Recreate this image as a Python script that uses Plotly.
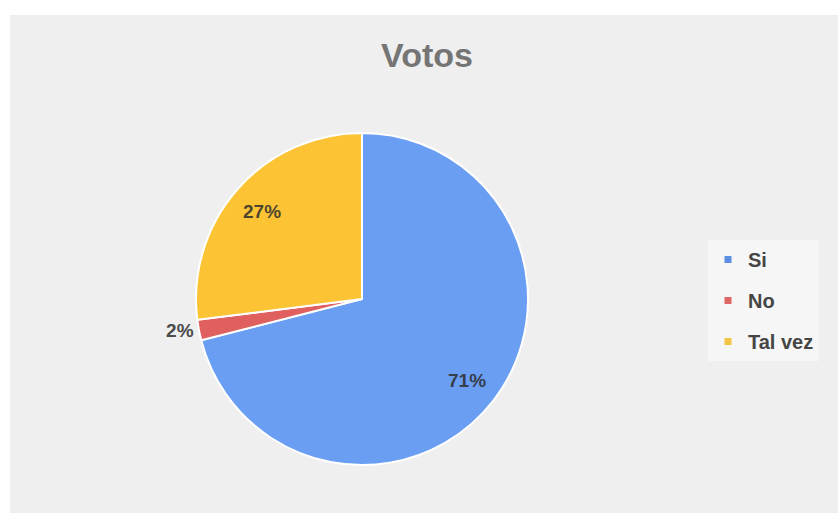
import math
import plotly.graph_objects as go

# Vote shares
labels = ["Si", "No", "Tal vez"]
values = [71, 2, 27]
colors = ["#6a9ef3", "#e06060", "#fcc434"]
legend_colors = ["#5b8fe6", "#e06666", "#f4c542"]
text_positions = ["none", "outside", "none"]
inside_labels = [True, False, True]

W, H = 838, 513
cx, cy, r = 362, 299, 166  # pie centre/radius in pixels

label_font = dict(family="Liberation Sans, Arial", size=19, color="rgba(45,45,45,0.85)", weight="bold")

fig = go.Figure()

fig.add_trace(go.Pie(
    labels=labels,
    values=values,
    sort=False,
    direction="clockwise",
    rotation=0,
    marker=dict(colors=colors, line=dict(color="white", width=2)),
    textinfo="percent",
    texttemplate="%{percent:.0%}",
    textposition=text_positions,
    outsidetextfont=dict(family="Liberation Sans, Arial", size=19, color="#4a4a4a", weight="bold"),
    showlegend=False,
    hoverinfo="label+percent",
    domain=dict(x=[(cx - r) / W, (cx + r) / W], y=[(H - cy - r) / H, (H - cy + r) / H]),
))

# Percent labels placed along each slice's mid-angle, toward the rim
total = sum(values)
annotations = []
cum = 0.0
for v, show in zip(values, inside_labels):
    frac_mid = (cum + v / 2) / total
    cum += v
    if not show:
        continue
    ang = 2 * math.pi * frac_mid
    px = cx + 0.8 * r * math.sin(ang)
    py = cy - 0.8 * r * math.cos(ang)
    annotations.append(dict(
        text=f"{round(100 * v / total)}%", x=px / W, y=1 - py / H,
        xref="paper", yref="paper", showarrow=False,
        xanchor="center", yanchor="middle", font=label_font,
    ))

# Legend entries with small square markers
for name, col in zip(labels, legend_colors):
    fig.add_trace(go.Scatter(
        x=[None], y=[None], mode="markers", name=name,
        legendgroup=name,
        marker=dict(symbol="square", size=7, color=col),
    ))

fig.update_layout(
    width=W, height=H,
    margin=dict(l=0, r=0, t=0, b=0),
    paper_bgcolor="white",
    plot_bgcolor="rgba(0,0,0,0)",
    xaxis=dict(visible=False, domain=[0.9, 0.91]),
    yaxis=dict(visible=False, domain=[0.9, 0.91]),
    title=dict(
        text="Votos", x=427 / W, xanchor="center", y=1 - 55 / H, yanchor="middle",
        font=dict(family="Liberation Sans, Arial", size=34, color="#757575", weight="bold"),
    ),
    legend=dict(
        x=708 / W, xanchor="left", y=1 - 240 / H, yanchor="top",
        bgcolor="#f6f6f6",
        font=dict(family="Liberation Sans, Arial", size=20, color="#454545", weight="bold"),
        tracegroupgap=12,
        itemwidth=30,
    ),
    annotations=annotations,
    shapes=[dict(
        type="rect", xref="paper", yref="paper", layer="below",
        x0=10 / W, x1=1, y0=0, y1=1 - 15 / H,
        fillcolor="#efefef", line=dict(width=0),
    )],
)

fig.write_html("out.html")
